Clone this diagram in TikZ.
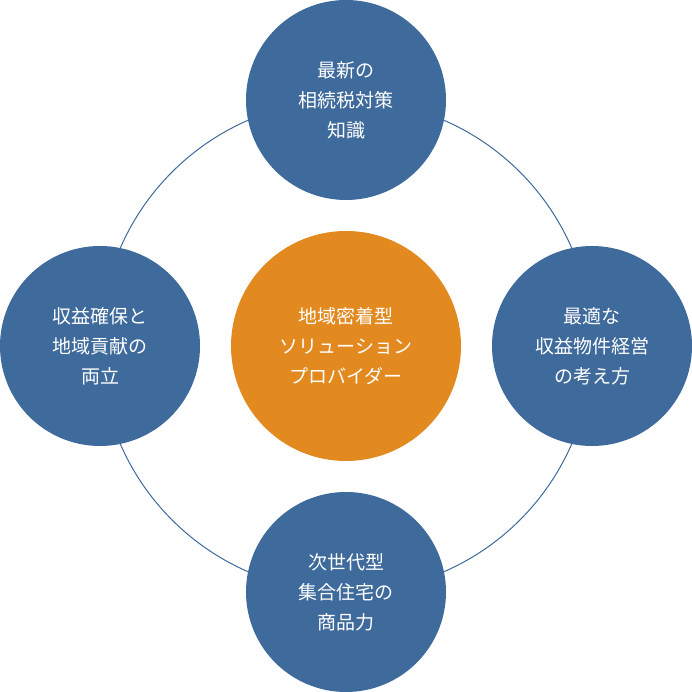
\documentclass[tikz,border=0pt]{standalone}
\usepackage{fontspec}
\newfontfamily\cjk{Noto Sans CJK JP}[BoldFont={Noto Sans CJK JP Bold}]
\usetikzlibrary{positioning}
\definecolor{ringblue}{HTML}{3F6A9C}
\definecolor{hubgold}{HTML}{E28A1F}
\begin{document}
\begin{tikzpicture}[x=1pt,y=1pt,
		sat/.style={circle,fill=ringblue,minimum size=200pt,inner sep=0pt,text=white,align=center,font=\cjk\fontsize{19}{30}\selectfont},
		hub/.style={sat,fill=hubgold,minimum size=230pt}
	]
		\useasboundingbox (0,0) rectangle (692,692);
		\node (orbit) [circle,draw=ringblue,line width=1pt,minimum size=492pt,inner sep=0pt] at (346,346) {};
		\node (hub) [hub] at (346,346) {地域密着型\\ソリューション\\プロバイダー};
		\node (top) [sat] at (346,592) {最新の\\相続税対策\\知識};
		\node (rgt) [sat] at (592,346) {最適な\\収益物件経営\\の考え方};
		\node (bot) [sat] at (346,100) {次世代型\\集合住宅の\\商品力};
		\node (lft) [sat] at (100,346) {収益確保と\\地域貢献の\\両立};
\end{tikzpicture}
\end{document}
